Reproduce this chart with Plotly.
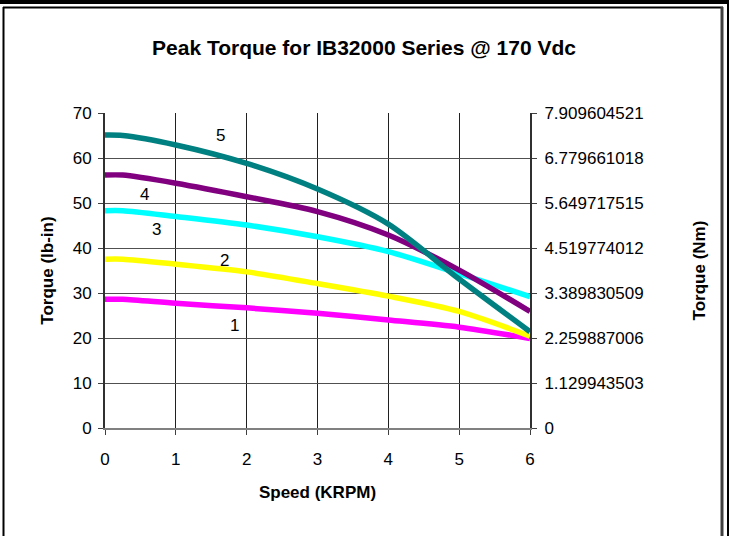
import plotly.graph_objects as go

speed = [0, 0.25, 1, 2, 3, 4, 5, 6]
curve1 = [28.6, 28.6, 27.7, 26.7, 25.5, 24.0, 22.4, 19.9]
curve2 = [37.5, 37.5, 36.4, 34.7, 32.1, 29.3, 25.9, 20.4]
curve3 = [48.3, 48.3, 47.0, 45.1, 42.5, 39.2, 34.3, 29.2]
curve4 = [56.2, 56.2, 54.4, 51.4, 48.1, 42.9, 35.1, 25.9]
curve5 = [65.1, 65.0, 62.9, 58.8, 53.1, 45.3, 33.1, 21.4]
series_names = ["1", "2", "3", "4", "5"]
series_colors = ["#FF00FF", "#FFFF00", "#00FFFF", "#800080", "#008080"]
label_x = [1.83, 1.68, 0.72, 0.56, 1.63]
label_y = [22.7, 37.3, 44.2, 51.9, 65.1]

left_ticks = [0, 10, 20, 30, 40, 50, 60, 70]
nm_factor = 8.85
right_ticktext = ["0", "1.129943503", "2.259887006", "3.389830509", "4.519774012",
                  "5.649717515", "6.779661018", "7.909604521"]
x_ticks = [0, 1, 2, 3, 4, 5, 6]

FONT = "Liberation Sans, Arial, sans-serif"

fig = go.Figure()
for name, ys, col in zip(series_names, [curve1, curve2, curve3, curve4, curve5], series_colors):
    fig.add_trace(go.Scatter(x=speed, y=ys, mode="lines", name=name,
                             line=dict(color=col, width=5.5, shape="spline", smoothing=0.8),
                             showlegend=False))
# invisible trace to anchor the right (Nm) axis
fig.add_trace(go.Scatter(x=[0], y=[0], yaxis="y2", mode="markers",
                         marker=dict(opacity=0), showlegend=False, hoverinfo="skip"))

for name, lx, ly in zip(series_names, label_x, label_y):
    fig.add_annotation(x=lx, y=ly, text=name, showarrow=False,
                       font=dict(family=FONT, size=17, color="black"))

W, H = 729, 536
L, R, T, B = 105, 530, 113, 428
pw, ph = R - L, B - T
def px(x): return (x - L) / pw
def py(y): return (B - y) / ph

shapes = [
    dict(type="rect", xref="paper", yref="paper", x0=px(0), x1=px(W), y0=py(0), y1=py(4),
         fillcolor="black", line=dict(width=0), layer="above"),
    dict(type="line", xref="paper", yref="paper", x0=px(3.5), x1=px(3.5), y0=py(7), y1=py(H),
         line=dict(color="black", width=2)),
    dict(type="line", xref="paper", yref="paper", x0=px(3), x1=px(723), y0=py(7.5), y1=py(7.5),
         line=dict(color="black", width=2)),
    dict(type="line", xref="paper", yref="paper", x0=px(722), x1=px(722), y0=py(7), y1=py(H),
         line=dict(color="#404040", width=3)),
    dict(type="line", xref="paper", yref="paper", x0=px(728), x1=px(728), y0=py(0), y1=py(H),
         line=dict(color="black", width=2)),
]

fig.update_layout(
    width=W, height=H,
    margin=dict(l=L, r=W - R, t=T, b=H - B, pad=0),
    paper_bgcolor="white", plot_bgcolor="white",
    font=dict(family=FONT, size=17, color="black"),
    title=dict(text="<b>Peak Torque for IB32000 Series @ 170 Vdc</b>",
               x=364 / W, xanchor="center", y=1 - 48 / H, yanchor="middle",
               font=dict(family=FONT, size=21, color="black")),
    xaxis=dict(range=[0, 6], tickvals=x_ticks, showgrid=True, gridcolor="#202020", gridwidth=1,
               showline=True, linecolor="#808080", linewidth=2, ticks="outside", ticklen=5,
               tickcolor="#404040", zeroline=False, ticklabelstandoff=10,
               title=dict(text="<b>Speed (KRPM)</b>", font=dict(size=17), standoff=18),
               tickfont=dict(size=17)),
    yaxis=dict(range=[0, 70], tickvals=left_ticks, showgrid=True, gridcolor="#505050", gridwidth=1,
               showline=True, linecolor="#303030", linewidth=2, ticks="outside", ticklen=5,
               tickcolor="#404040", zeroline=False, ticklabelstandoff=3,
               title=dict(text="<b>Torque (lb-in)</b>", font=dict(size=17), standoff=15),
               tickfont=dict(size=17)),
    yaxis2=dict(range=[0, 70 / nm_factor], overlaying="y", side="right",
                tickvals=[t / nm_factor for t in left_ticks], ticktext=right_ticktext,
                showgrid=False, zeroline=False, showline=True, linecolor="#303030", linewidth=2,
                ticks="outside", ticklen=5, tickcolor="#404040", ticklabelstandoff=4,
                title=dict(text="<b>Torque (Nm)</b>", font=dict(size=17), standoff=50),
                tickfont=dict(size=17)),
    shapes=shapes,
)

fig.write_html("out.html", config={"displayModeBar": False},
               post_script="document.body.style.margin='0';")
